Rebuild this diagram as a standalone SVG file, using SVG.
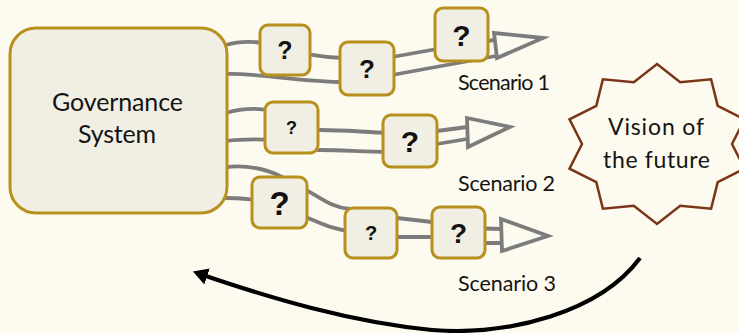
<svg xmlns="http://www.w3.org/2000/svg" width="739" height="333" viewBox="0 0 739 333">
  <style>
    .bg { fill: #fdfbef; }
    .gov { fill: #f1efe4; stroke: #b8901e; stroke-width: 3; }
    .q { fill: #f1efe4; stroke: #b8901e; stroke-width: 3; }
    .qt { font-family: "Liberation Sans", Arial, sans-serif; font-weight: bold; fill: #111; text-anchor: middle; }
    .lane { fill: none; stroke: #7c7c7c; stroke-width: 3.8; stroke-linejoin: round; stroke-linecap: round; }
    .head { fill: #fdfbef; stroke: #7c7c7c; stroke-width: 3.8; stroke-linejoin: miter; }
    .lbl { font-family: Lato, "Open Sans", sans-serif; fill: #141414; }
    .star { fill: #fdfbef; stroke: #7a3416; stroke-width: 2.5; stroke-linejoin: miter; }
    .back { fill: none; stroke: #000; stroke-width: 4.2; }
  </style>
  <defs>
    <marker id="blackHead" markerUnits="userSpaceOnUse" markerWidth="15" markerHeight="17" viewBox="0 0 15 17" refX="7.5" refY="8.5" orient="auto">
      <path d="M0,0 L15,8.5 L0,17 Z" fill="#000"/>
    </marker>
  </defs>

  <rect class="bg" x="0" y="0" width="739" height="333"/>

  <!-- scenario lanes (grey outlined block arrows) -->
  <g id="connectors">
    <g id="lane1">
      <path class="lane" d="M226,45 C242,40 262,41 285,48 C300,53 315,57 342,58 L392,57 L437,49 L494,40"/>
      <path class="lane" d="M226,74 C260,73 300,82 345,82 L392,75 L496,56"/>
      <path class="head" d="M494,33 L543,38 L497,58 Z"/>
    </g>
    <g id="lane2">
      <path class="lane" d="M226,113 C242,108 258,107 280,112 C300,118 305,130 320,130 C345,130 362,132 390,133 L437,131 L467,127"/>
      <path class="lane" d="M226,141 C242,139 255,139 275,140 C300,142 305,150 320,150 C345,150 362,152 390,152 L437,144 L467,139"/>
      <path class="head" d="M467,118 L510,127 L468,147 Z"/>
    </g>
    <g id="lane3">
      <path class="lane" d="M226,167 C248,165 265,168 282,177 L300,187 C318,195 328,207 350,209 L397,218 L432,222 L470,228 L501,229"/>
      <path class="lane" d="M226,198 C238,198 246,199 258,200 L300,215 C320,222 330,229 350,231 L397,237 L432,237 L485,243 L502,243"/>
      <path class="head" d="M501,219 L548,236 L502,251 Z"/>
    </g>
    <path id="feedback" class="back" d="M640,258 C600,312 510,336 432,330 C350,322 270,298 200,274" marker-end="url(#blackHead)"/>
  </g>

  <g id="governance">
    <rect class="gov" x="10" y="28" width="217" height="185" rx="26"/>
    <text class="lbl" x="117.5" y="111" font-size="25" text-anchor="middle" textLength="131">Governance</text>
    <text class="lbl" x="117" y="143" font-size="25" text-anchor="middle" textLength="78">System</text>
  </g>

  <g id="q1a"><rect class="q" x="260" y="25" width="50" height="50" rx="8"/><text class="qt" x="285" y="59" font-size="25">?</text></g>
  <g id="q1b"><rect class="q" x="340" y="42" width="54" height="53" rx="8"/><text class="qt" x="367" y="78" font-size="26">?</text></g>
  <g id="q1c"><rect class="q" x="435" y="8" width="53" height="53" rx="8"/><text class="qt" x="461.5" y="45.5" font-size="30">?</text></g>
  <g id="q2a"><rect class="q" x="265" y="102" width="53" height="51" rx="8"/><text class="qt" x="291.5" y="134" font-size="18">?</text></g>
  <g id="q2b"><rect class="q" x="383" y="115" width="54" height="52" rx="8"/><text class="qt" x="410" y="152" font-size="30">?</text></g>
  <g id="q3a"><rect class="q" x="252" y="177" width="55" height="51" rx="8"/><text class="qt" x="279.5" y="214.5" font-size="33">?</text></g>
  <g id="q3b"><rect class="q" x="345" y="208" width="52" height="50" rx="8"/><text class="qt" x="371" y="240" font-size="20">?</text></g>
  <g id="q3c"><rect class="q" x="432" y="207" width="53" height="51" rx="8"/><text class="qt" x="458.5" y="242.5" font-size="28">?</text></g>

  <g id="labels">
    <text class="lbl" x="458" y="90" font-size="21.5" textLength="92">Scenario 1</text>
    <text class="lbl" x="458" y="191" font-size="21.5" textLength="97">Scenario 2</text>
    <text class="lbl" x="458" y="291" font-size="21.5" textLength="98">Scenario 3</text>
  </g>

  <g id="vision">
    <polygon class="star" points="657,64 680.2,82.2 711.1,79.3 717.7,105.8 744.5,119.3 732,144 744.5,168.7 717.7,182.2 711.1,208.7 680.2,205.8 657,224 633.8,205.8 602.9,208.7 596.3,182.2 569.5,168.7 582,144 569.5,119.3 596.3,105.8 602.9,79.3 633.8,82.2"/>
    <text class="lbl" x="656" y="135" font-size="23" text-anchor="middle" textLength="96">Vision of</text>
    <text class="lbl" x="656.5" y="168" font-size="23" text-anchor="middle" textLength="107">the future</text>
  </g>
</svg>
